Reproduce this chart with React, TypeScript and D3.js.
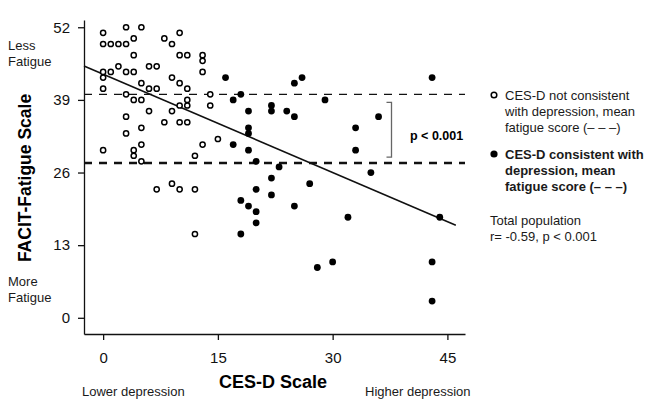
import { useEffect, useRef } from 'react';
import * as d3 from 'd3';

// open circles: CES-D not consistent with depression
const notDepressedX = [3, 5, 0, 10, 8, 4, 9, 0, 1, 2, 3, 4, 10, 11, 13, 13, 2, 0, 1, 0, 3, 4, 6, 7, 13, 9, 5, 10, 0, 6, 7, 11, 3, 4, 5, 11, 14, 10, 11, 14, 6, 9, 3, 8, 10, 11, 3, 5, 15, 13, 0, 4, 5, 4, 5, 12, 7, 9, 10, 12, 12];
const notDepressedY = [52, 52, 51, 51, 50, 50, 49, 49, 49, 49, 49, 47, 47, 47, 47, 46, 45, 44, 44, 43, 44, 44, 45, 45, 44, 43, 42, 42, 41, 41, 41, 41, 40, 39, 39, 39, 40, 38, 38, 38, 37, 37, 36, 35, 35, 35, 33, 34, 32, 31, 30, 30, 31, 29, 28, 29, 23, 24, 23, 23, 15];

// filled circles: CES-D consistent with depression
const depressedX = [16, 18, 17, 19, 19, 19, 17, 19, 18, 19, 18, 25, 26, 43, 29, 22, 22, 24, 25, 36, 33, 33, 20, 23, 22, 35, 20, 27, 22, 20, 20, 25, 32, 44, 28, 30, 43, 43];
const depressedY = [43, 40, 39, 37, 34, 33, 31, 30, 21, 20, 15, 42, 43, 43, 39, 38, 37, 37, 36, 36, 34, 30, 28, 27, 25, 26, 23, 24, 22, 19, 17, 20, 18, 18, 9, 10, 10, 3];

const xTicks = [0, 15, 30, 45];
const yTicks = [0, 13, 26, 39, 52];
const meanNotDepressed = 40;
const meanDepressed = 27.7;
const regIntercept = 43.6;
const regSlope = -0.5866;
const regRange = [-2.5, 46.1];

const FONT = '"Liberation Sans", Arial, sans-serif';

const App = () => {
  const svgRef = useRef(null);

  useEffect(() => {
    const svg = d3.select(svgRef.current);
    svg.selectAll('*').remove();

    const x = d3.scaleLinear().domain([-2.5, 47.3]).range([84, 465]);
    const y = d3.scaleLinear().domain([-2.9, 53.3]).range([334, 20]);

    svg.attr('width', 647).attr('height', 399).style('font-family', FONT);

    // Axes
    const xAxis = svg.append('g')
      .attr('transform', `translate(0,${y.range()[0]})`)
      .call(d3.axisBottom(x).tickValues(xTicks).tickSize(6).tickSizeOuter(0).tickPadding(12));
    const yAxis = svg.append('g')
      .attr('transform', `translate(${x.range()[0]},0)`)
      .call(d3.axisLeft(y).tickValues(yTicks).tickSize(6).tickSizeOuter(0).tickPadding(8));
    [xAxis, yAxis].forEach(a => {
      a.selectAll('text').style('font-size', '15px').style('font-family', FONT).attr('fill', '#111');
      a.selectAll('line, path').attr('stroke', '#111').attr('stroke-width', 1.3);
    });

    // Mean lines
    svg.append('line')
      .attr('x1', x.range()[0]).attr('x2', x.range()[1])
      .attr('y1', y(meanNotDepressed)).attr('y2', y(meanNotDepressed))
      .attr('stroke', '#111').attr('stroke-width', 1.3)
      .attr('stroke-dasharray', '8,7');
    svg.append('line')
      .attr('x1', x.range()[0]).attr('x2', x.range()[1])
      .attr('y1', y(meanDepressed)).attr('y2', y(meanDepressed))
      .attr('stroke', '#111').attr('stroke-width', 2.6)
      .attr('stroke-dasharray', '8,7');

    // Regression line
    svg.append('line')
      .attr('x1', x(regRange[0])).attr('y1', y(regIntercept + regSlope * regRange[0]))
      .attr('x2', x(regRange[1])).attr('y2', y(regIntercept + regSlope * regRange[1]))
      .attr('stroke', '#111').attr('stroke-width', 1.6);

    // Points
    svg.append('g').selectAll('circle')
      .data(notDepressedX.map((d, i) => [d, notDepressedY[i]]))
      .enter().append('circle')
      .attr('cx', d => x(d[0])).attr('cy', d => y(d[1]))
      .attr('r', 2.6)
      .attr('fill', '#fff').attr('stroke', '#000').attr('stroke-width', 1.5);
    svg.append('g').selectAll('circle')
      .data(depressedX.map((d, i) => [d, depressedY[i]]))
      .enter().append('circle')
      .attr('cx', d => x(d[0])).attr('cy', d => y(d[1]))
      .attr('r', 3.4)
      .attr('fill', '#000');

    // p-value bracket
    const bx = 391.5;
    svg.append('path')
      .attr('d', `M${bx - 5},${y(meanNotDepressed) + 8}H${bx}V${y(meanDepressed) - 6}H${bx - 5}`)
      .attr('fill', 'none').attr('stroke', '#666').attr('stroke-width', 1.3);
    svg.append('text')
      .attr('x', 410).attr('y', 140)
      .style('font-size', '12.5px').style('font-weight', 'bold')
      .text('p < 0.001');

    // Axis titles
    svg.append('text')
      .attr('transform', 'translate(31,178) rotate(-90)')
      .style('text-anchor', 'middle').style('font-size', '17.5px').style('font-weight', 'bold')
      .text('FACIT-Fatigue Scale');
    svg.append('text')
      .attr('x', 273).attr('y', 388)
      .style('text-anchor', 'middle').style('font-size', '18px').style('font-weight', 'bold')
      .text('CES-D Scale');

    const small = (tx, ty, t, weight = 'normal') =>
      svg.append('text').attr('x', tx).attr('y', ty)
        .style('font-size', '13px').style('font-weight', weight)
        .attr('fill', '#1a1a1a')
        .text(t);

    small(8, 50, 'Less');
    small(8, 66, 'Fatigue');
    small(8, 286, 'More');
    small(8, 302, 'Fatigue');
    small(82, 395.5, 'Lower depression');
    small(365, 395.5, 'Higher depression');

    // Legend
    svg.append('circle').attr('cx', 494).attr('cy', 95).attr('r', 2.8)
      .attr('fill', '#fff').attr('stroke', '#000').attr('stroke-width', 1.5);
    small(505, 100, 'CES-D not consistent');
    small(505, 116, 'with depression, mean');
    small(505, 132, 'fatigue score (\u2013  \u2013  \u2013)');

    svg.append('circle').attr('cx', 494).attr('cy', 154).attr('r', 3.6).attr('fill', '#000');
    small(505, 159, 'CES-D consistent with', 'bold');
    small(505, 175, 'depression, mean', 'bold');
    small(505, 191, 'fatigue score (\u2013  \u2013  \u2013)', 'bold');

    small(490, 225, 'Total population');
    small(490, 241, 'r= -0.59, p < 0.001');
  }, []);

  return (
    <svg ref={svgRef} style={{ position: 'absolute', left: 0, top: 0 }}></svg>
  );
};

export default App;
